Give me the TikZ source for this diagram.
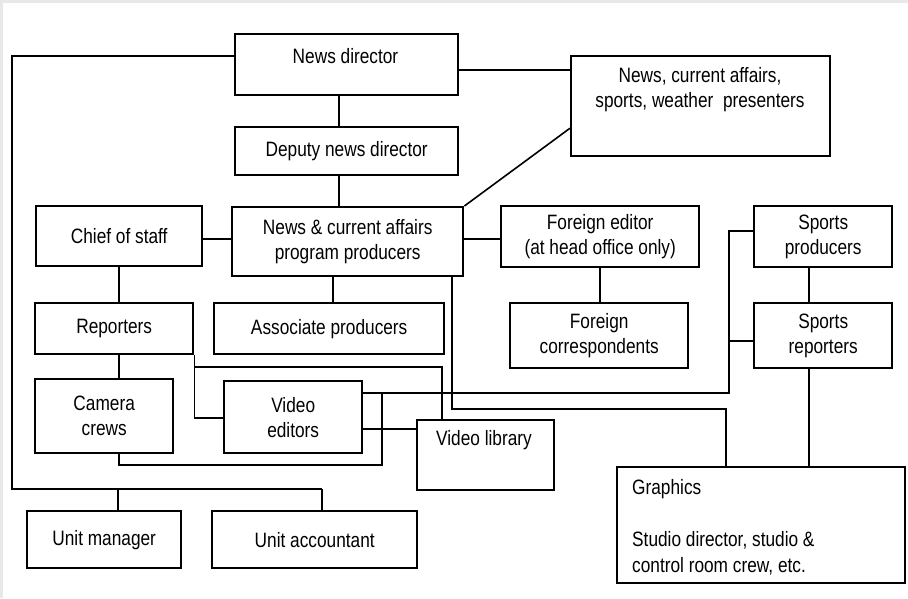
\documentclass[tikz,border=0pt]{standalone}
\usepackage{fontspec}
\setmainfont[FakeStretch=0.83]{Liberation Sans}
\begin{document}
\begin{tikzpicture}[x=1pt,y=-1pt,
  box/.style={draw, line width=2.4pt, anchor=north west, inner sep=0pt, align=center, font=\fontsize{20.8}{25}\selectfont},
  txt/.style={inner sep=0pt, align=center, font=\fontsize{20.8}{25}\selectfont},
  conn/.style={line width=1.6pt}]
\useasboundingbox (0,0) rectangle (908,598);
\fill[gray!18] (0,0) rectangle (908,598);
\fill[white] (3,3) rectangle (908,598);

% boxes
\node[box, minimum width=223pt, minimum height=61pt] (nd) at (234,33) {};
\node[txt] (ndt) at (345.5,56) {News director};
\node[box, minimum width=223pt, minimum height=48pt] (dnd) at (234,126) {Deputy news director};
\node[box, minimum width=259pt, minimum height=100pt] (pres) at (570,55) {};
\node[txt] (prest) at (700,90) {News, current affairs,\\sports, weather\ \ presenters};
\node[box, minimum width=166pt, minimum height=60pt] (cos) at (35,205) {Chief of staff};
\node[box, minimum width=231pt, minimum height=69pt] (prod) at (231,206) {News \& current affairs\\program producers};
\node[box, minimum width=198pt, minimum height=61pt] (fe) at (500,205) {Foreign editor\\(at head office only)};
\node[box, minimum width=138pt, minimum height=61pt] (sp) at (753,205) {Sports\\producers};
\node[box, minimum width=158pt, minimum height=51pt] (rep) at (34,302) {Reporters};
\node[box, minimum width=230pt, minimum height=51pt] (ap) at (213,302) {Associate producers};
\node[box, minimum width=178pt, minimum height=65pt] (fc) at (509,302) {Foreign\\correspondents};
\node[box, minimum width=138pt, minimum height=65pt] (sr) at (753,302) {Sports\\reporters};
\node[box, minimum width=138pt, minimum height=74pt] (cam) at (34,378) {Camera\\crews};
\node[box, minimum width=138pt, minimum height=72pt] (ve) at (223,380) {Video\\editors};
\node[box, minimum width=137pt, minimum height=70pt] (vl) at (416,419) {};
\node[txt] (vlt) at (484,440) {Video library};
\node[box, minimum width=288pt, minimum height=116pt] (gr) at (616,466) {};
\node[txt, anchor=base west] (gt1) at (632,494) {Graphics};
\node[txt, anchor=base west] (gt2) at (632,546) {Studio director, studio \&};
\node[txt, anchor=base west] (gt3) at (632,572) {control room crew, etc.};
\node[box, minimum width=154pt, minimum height=57pt] (um) at (26,510) {Unit manager};
\node[box, minimum width=205pt, minimum height=57pt] (ua) at (211,510) {Unit accountant};

% coordinates
\coordinate (c2) at (12,489);
\coordinate (c3) at (322,489);
\coordinate (c4) at (118,489);
\coordinate (sx) at (809,0);
\coordinate (b1) at (729,393);
\coordinate (b2) at (382,465);
\coordinate (b3) at (442,367);
\coordinate (b4) at (726,409);

% connectors
\draw[conn] ([yshift=8.5pt]nd.west) -| (c2) -- (c3);
\draw[conn] (c3) -- (c3 |- ua.north);
\draw[conn] (c4) -- (c4 |- um.north);
\draw[conn] ([yshift=-5.5pt]nd.east) -- ([yshift=-5.5pt]nd.east -| pres.west);
\draw[conn] ([xshift=-7.5pt]nd.south) -- ([xshift=-7.5pt]nd.south |- dnd.north);
\draw[conn] ([xshift=-7.5pt]dnd.south) -- ([xshift=-7.5pt]dnd.south |- prod.north);
\draw[conn] (cos.east |- 0,239) -- (prod.west |- 0,239);
\draw[conn] (cos.south) -- (cos.south |- rep.north);
\draw[conn] (rep.south -| cos.south) -- (cos.south |- cam.north);
\draw[conn] ([xshift=-14.5pt]prod.south) -- ([xshift=-14.5pt]prod.south |- ap.north);
\draw[conn] (prod.north east) -- ([yshift=-22pt]pres.west);
\draw[conn] (prod.east |- 0,239) -- (fe.west |- 0,239);
\draw[conn] (fe.south) -- (fe.south |- fc.north);
\draw[conn] (sp.south -| sx) -- (sr.north -| sx);
\draw[conn] (sr.south -| sx) -- (gr.north -| sx);
\draw[conn] (sp.west |- 0,231) -| (b1) -- (ve.east |- b1);
\draw[conn] (sr.west |- 0,341) -- (b1 |- 0,341);
\draw[conn] (cam.south -| cos.south) |- (b2) -- (b2 |- b1);
\draw[conn] (ve.east |- 0,429) -- (vl.west |- 0,429);
\draw[conn] (rep.south east) |- (ve.west |- 0,418);
\draw[conn] (rep.south east |- b3) -| (vl.north -| b3);
\draw[conn] (prod.south -| 452,0) |- (b4) -- (gr.north -| b4);
\end{tikzpicture}
\end{document}
